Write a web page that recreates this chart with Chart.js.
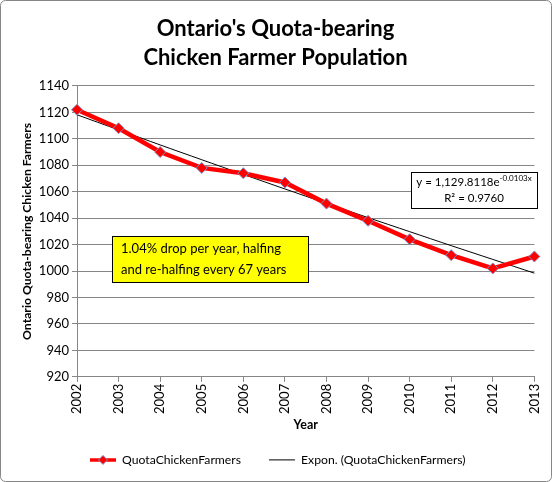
<!DOCTYPE html>
<html><head><meta charset="utf-8">
<script src="https://cdn.jsdelivr.net/npm/chart.js@4"></script>
<style>html,body{margin:0;padding:0;background:#fff}#wrap{width:552px;height:482px}</style>
</head><body><div id="wrap"><canvas id="c" width="552" height="482"></canvas></div>
<script>
const years = ['2002','2003','2004','2005','2006','2007','2008','2009','2010','2011','2012','2013'];
const farmers = [1122,1108,1090,1078,1074,1067,1051,1038,1024,1012,1002,1011];
const trend = [1118.2,1106.8,1095.4,1084.2,1073.1,1062.1,1051.2,1040.4,1029.8,1019.2,1008.8,998.4];
const yMin = 920, yMax = 1140, yStep = 20;
const seriesNames = ['QuotaChickenFarmers','Expon. (QuotaChickenFarmers)'];
const titleLines = ["Ontario's Quota-bearing","Chicken Farmer Population"];
const yTitle = 'Ontario Quota-bearing Chicken Farmers';
const xTitle = 'Year';
const noteLines = ['1.04% drop per year, halfing','and re-halfing every 67 years'];
const eqBase = 'y = 1,129.8118e', eqExp = '-0.0103x', eqR2 = 'R² = 0.9760';

const FONT = 'Lato';
Chart.defaults.color = '#000';
Chart.defaults.font.family = FONT;

const LEG_PAD = 14, LEG_GAP = 28, LEG_START = 90, TITLE_CENTER = 275.5;

const frame = {
  id:'frame',
  beforeDraw(chart){
    const c = chart.ctx;
    c.save();
    c.fillStyle = '#fff';
    c.fillRect(0,0,chart.width,chart.height);
    c.strokeStyle = '#868686';
    c.lineWidth = 1;
    c.beginPath();
    c.roundRect(0.5,0.5,chart.width-1,chart.height-1,5);
    c.stroke();
    c.restore();
    // centre the title over the whole picture
    const tb = chart.titleBlock;
    if (tb && !tb._adj){
      tb._adj = {left:tb.left,right:tb.right};
      const d = TITLE_CENTER - (tb.left + tb.right)/2;
      tb.left += d; tb.right += d;
    }
    // widen gap between legend items without changing legend height
    const lg = chart.legend;
    if (lg && !lg._adj){
      lg._adj = {top:lg.top,bottom:lg.bottom,left:lg.left,right:lg.right};
      const extra = LEG_GAP - LEG_PAD;
      lg.options.labels.padding = LEG_GAP;
      lg.top -= extra;
      const start = (lg.left + LEG_GAP + lg.right - lg.lineWidths[0]) / 2;
      const dx = LEG_START - start;
      lg.left += dx; lg.right += dx;
    }
  },
  afterDraw(chart){
    const c = chart.ctx;
    c.save();
    // yellow note box
    c.fillStyle = '#ffff00';
    c.strokeStyle = '#000';
    c.lineWidth = 1;
    c.fillRect(112,236,196,46);
    c.strokeRect(112.5,236.5,196,46);
    c.fillStyle = '#000';
    c.font = '13px ' + FONT;
    c.textBaseline = 'middle';
    c.textAlign = 'left';
    c.fillText(noteLines[0],121,249);
    c.fillText(noteLines[1],121,270);
    // equation box
    c.fillStyle = '#fff';
    c.fillRect(411,172,126,36);
    c.strokeRect(411.5,172.5,126,36);
    c.fillStyle = '#000';
    c.font = '11.5px ' + FONT;
    const w1 = c.measureText(eqBase).width;
    c.font = '8px ' + FONT;
    const w2 = c.measureText(eqExp).width;
    const sx = 474 - (w1+w2)/2;
    c.font = '11.5px ' + FONT;
    c.fillText(eqBase,sx,182);
    c.font = '8px ' + FONT;
    c.fillText(eqExp,sx+w1,178);
    c.font = '11.5px ' + FONT;
    c.textAlign = 'center';
    c.fillText(eqR2,474,198);
    // legend diamond marker
    const lg = chart.legend;
    if (lg && lg._adj){
      const lo = lg.options.labels;
      const fs = lo.font.size;
      const x0 = (lg.left + lo.padding + lg.right - lg.lineWidths[0]) / 2;
      const cx = x0 + lo.pointStyleWidth/2, cy = lg.top + lo.padding + fs/2;
      c.beginPath();
      c.moveTo(cx,cy-4.5);c.lineTo(cx+4.5,cy);c.lineTo(cx,cy+4.5);c.lineTo(cx-4.5,cy);c.closePath();
      c.fillStyle='#ff0000';c.fill();
      c.strokeStyle='#7f93c8';c.lineWidth=1;c.stroke();
      lo.padding = LEG_PAD;
      Object.assign(lg, lg._adj);
      lg._adj = null;
    }
    const tb = chart.titleBlock;
    if (tb && tb._adj){ Object.assign(tb, tb._adj); tb._adj = null; }
    c.restore();
  }
};

new Chart(document.getElementById('c'),{
  type:'line',
  data:{
    labels: years,
    datasets:[
      {label:seriesNames[0],data:farmers,borderColor:'#ff0000',borderWidth:4.5,
       pointStyle:'rectRot',pointRadius:5.5,pointBackgroundColor:'#ff0000',
       pointBorderColor:'#7f93c8',pointBorderWidth:1,tension:0,order:1},
      {label:seriesNames[1],data:trend,borderColor:'#000',borderWidth:1,
       pointRadius:0,tension:0.3,order:2}
    ]
  },
  options:{
    responsive:false,
    animation:false,
    devicePixelRatio:1,
    layout:{padding:{left:0,right:16,top:0,bottom:6}},
    plugins:{
      title:{display:true,text:titleLines,font:{size:22,weight:'bold',lineHeight:1.34},
             color:'#000',padding:{top:14,bottom:13}},
      legend:{position:'bottom',
        labels:{usePointStyle:true,pointStyleWidth:26,font:{size:12.2},padding:LEG_PAD,
          generateLabels(chart){
            return chart.data.datasets.map((d,i)=>({
              text:d.label,pointStyle:'line',strokeStyle:d.borderColor,
              fillStyle:d.borderColor,lineWidth:i===0?3.5:1,datasetIndex:i,fontColor:'#000'
            }));
          }}},
      tooltip:{enabled:false}
    },
    scales:{
      x:{type:'category',offset:false,
        grid:{display:true,drawOnChartArea:false,drawTicks:true,tickLength:5,color:'#868686'},
        border:{color:'#868686'},
        ticks:{minRotation:90,maxRotation:90,font:{size:13},padding:2,autoSkip:false},
        title:{display:true,text:xTitle,font:{size:12.5,weight:'bold'},padding:{top:0,bottom:7}},
        afterFit(s){s.height=63;}
      },
      y:{min:yMin,max:yMax,
        ticks:{stepSize:yStep,font:{size:13},padding:3,callback:(v)=>String(v)},
        grid:{color:'#868686',tickLength:5},
        border:{color:'#868686'},
        title:{display:true,text:yTitle,font:{size:12.2,weight:'bold'},padding:{top:20,bottom:0}},
        afterFit(s){s.width=77;}
      }
    }
  },
  plugins:[frame]
});
</script></body></html>
